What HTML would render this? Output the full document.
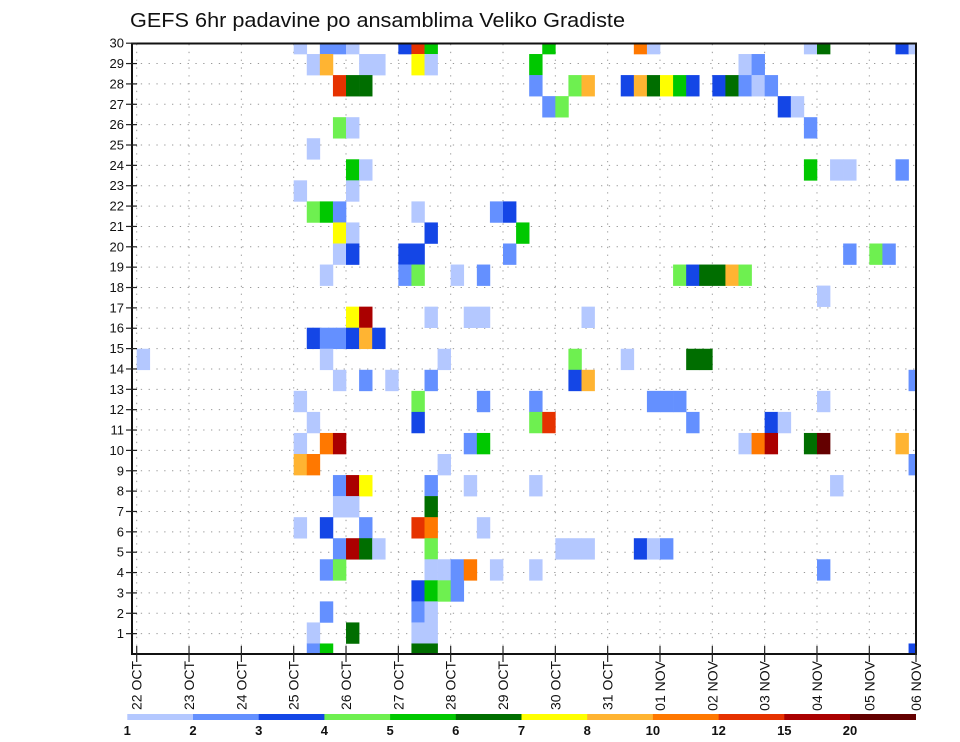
<!DOCTYPE html>
<html><head><meta charset="utf-8"><style>
html,body{margin:0;padding:0;background:#fff;}
svg{display:block;font-family:"Liberation Sans",sans-serif;}
</style></head><body>
<svg id="chart" width="960" height="742" viewBox="0 0 960 742" xmlns="http://www.w3.org/2000/svg">
<defs><clipPath id="plotclip"><rect x="132" y="43.5" width="784" height="610.5"/></clipPath></defs>
<text x="130" y="27" font-size="20" textLength="495" lengthAdjust="spacingAndGlyphs" fill="#111">GEFS 6hr padavine po ansamblima Veliko Gradiste</text>
<g id="grid"></g>
<g id="cells" clip-path="url(#plotclip)"></g>
<rect x="132" y="43.5" width="784" height="610.5" fill="none" stroke="#111" stroke-width="2"/>
<g id="axes"></g>
<g id="colorbar"></g>
</svg>
<script>
// ---- data ----
const dayLabels = ["22 OCT","23 OCT","24 OCT","25 OCT","26 OCT","27 OCT","28 OCT","29 OCT","30 OCT","31 OCT","01 NOV","02 NOV","03 NOV","04 NOV","05 NOV","06 NOV"];
const memberLabels = [1,2,3,4,5,6,7,8,9,10,11,12,13,14,15,16,17,18,19,20,21,22,23,24,25,26,27,28,29,30];
const levels = [1,2,3,4,5,6,7,8,10,12,15,20];
const levelColors = ["#b4c8ff","#6490ff","#1446e6","#6ef050","#00c800","#006e00","#ffff00","#ffb432","#ff7800","#e63200","#aa0000","#640000"];
// cells: time step (6h from 22 OCT 00Z), member row, precipitation value (mm)
const cellStep = [12,14,15,16,20,21,22,31,38,39,51,52,58,59,
 13,14,17,18,21,22,30,46,47,
 15,16,17,30,33,34,37,38,39,40,41,42,44,45,46,47,48,
 31,32,49,50, 15,16,51, 13, 16,17,51,53,54,58, 12,16,
 13,14,15,21,27,28, 15,16,22,29, 15,16,20,21,28,54,56,57,
 14,20,21,24,26,41,42,43,44,45,46, 52, 16,17,22,25,26,34,
 13,14,15,16,17,18, 0,14,23,33,37,42,43, 15,17,19,22,33,34,59,
 12,21,26,30,39,40,41,52, 13,21,30,31,42,48,49,
 12,14,15,25,26,46,47,48,51,52,58, 12,13,23,59,
 15,16,17,22,25,30,53, 15,16,22, 12,14,17,21,22,26,
 15,16,17,18,22,32,33,34,38,39,40, 14,15,22,23,24,25,27,30,52,
 21,22,23,24, 14,21,22, 13,16,21,22, 13,14,21,22,59];
const cellMember = [29,29,29,29,29,29,29,29,29,29,29,29,29,29,
 28,28,28,28,28,28,28,28,28,
 27,27,27,27,27,27,27,27,27,27,27,27,27,27,27,27,27,
 26,26,26,26, 25,25,25, 24, 23,23,23,23,23,23, 22,22,
 21,21,21,21,21,21, 20,20,20,20, 19,19,19,19,19,19,19,19,
 18,18,18,18,18,18,18,18,18,18,18, 17, 16,16,16,16,16,16,
 15,15,15,15,15,15, 14,14,14,14,14,14,14, 13,13,13,13,13,13,13,
 12,12,12,12,12,12,12,12, 11,11,11,11,11,11,11,
 10,10,10,10,10,10,10,10,10,10,10, 9,9,9,9,
 8,8,8,8,8,8,8, 7,7,7, 6,6,6,6,6,6,
 5,5,5,5,5,5,5,5,5,5,5, 4,4,4,4,4,4,4,4,4,
 3,3,3,3, 2,2,2, 1,1,1,1, 0,0,0,0,0];
const cellValue = [1,2,2,1,3,12,5,5,10,1,1,6,3,1,
 1,8,1,1,7,1,5,1,2,
 12,6,6,2,4,8,3,8,6,7,5,3,3,6,2,1,2,
 2,4,3,1, 4,1,2, 1, 5,1,5,1,1,2, 1,1,
 4,5,2,1,2,3, 7,1,3,5, 1,3,3,3,2,2,4,2,
 1,2,4,1,2,4,3,6,6,8,4, 1, 7,15,1,1,1,1,
 3,2,2,3,8,3, 1,1,1,4,1,6,6, 1,2,1,2,3,8,2,
 1,4,2,2,2,2,2,1, 1,3,4,12,2,3,1,
 1,10,15,2,5,1,10,15,6,20,8, 8,10,1,2,
 2,15,7,2,1,1,1, 1,1,6, 1,3,2,12,10,1,
 2,15,6,1,4,1,1,1,3,1,2, 2,4,1,1,2,10,1,1,2,
 3,5,4,2, 2,2,1, 1,6,1,1, 2,5,6,6,3];

// ---- scales ----
const NS = "http://www.w3.org/2000/svg";
const X0 = 136.7, DAYW = 52.33, STEPW = DAYW/4;
const Y0 = 654, LABH = 20.36;           // axis label spacing
const CELLH = 610.5/29;                 // cell row pitch
const xDay = d => X0 + d*DAYW;
const xStep = s => X0 + s*STEPW;
const yLabel = k => Y0 - k*LABH;
const yCell = j => Y0 - j*CELLH;
function colorFor(v){let i=0;for(let k=0;k<levels.length;k++){if(v>=levels[k])i=k;}return levelColors[i];}
function mk(tag, attrs, parent){const e=document.createElementNS(NS,tag);for(const k in attrs)e.setAttribute(k,attrs[k]);parent.appendChild(e);return e;}

const grid=document.getElementById('grid'), cells=document.getElementById('cells'), axes=document.getElementById('axes'), cb=document.getElementById('colorbar');

// gridlines
dayLabels.forEach((lab,d)=>{
  const x=xDay(d); if(x>915) return;
  const l=mk('line',{x1:x,x2:x,y1:44,y2:654,stroke:'#999','stroke-width':1,'stroke-dasharray':'1.3 6.5'},grid);
  
  
});
memberLabels.forEach(k=>{
  if(k>=30) return;
  const y=yLabel(k);
  const l=mk('line',{x1:133,x2:915,y1:y,y2:y,stroke:'#999','stroke-width':1,'stroke-dasharray':'1.3 6.5'},grid);
  
  
});

// cells
for(let i=0;i<cellStep.length;i++){
  const x=xStep(cellStep[i]), y=yCell(cellMember[i])-CELLH/2;
  const r=mk('rect',{x:x,y:y,width:STEPW+0.3,height:CELLH+0.3,fill:colorFor(cellValue[i])},cells);
  
  
}

// y axis
memberLabels.forEach(k=>{
  const y=yLabel(k);
  const t=mk('line',{x1:126,x2:137,y1:y,y2:y,stroke:'#222','stroke-width':1.2},axes);
  
  
  const tx=mk('text',{x:124,y:y+4.5,'font-size':13,'text-anchor':'end',fill:'#111'},axes);
  tx.textContent=String(k);
  
  
});
// x axis
dayLabels.forEach((lab,d)=>{
  const x=Math.min(xDay(d),916);
  const t=mk('line',{x1:x,x2:x,y1:646,y2:662,stroke:'#222','stroke-width':1.2},axes);
  
  
  const tx=mk('text',{x:0,y:0,'font-size':14,'text-anchor':'end',fill:'#111',transform:`translate(${x+5},661) rotate(-90)`},axes);
  tx.textContent=lab;
  
  
});

// colorbar
const CBX=127.3, CBW=65.7;
levelColors.forEach((c,i)=>{
  const r=mk('rect',{x:CBX+i*CBW,y:714,width:CBW+0.3,height:6,fill:c},cb);
  
  
  const t=mk('text',{x:CBX+i*CBW,y:735,'font-size':13,'font-weight':'bold','text-anchor':'middle',fill:'#111'},cb);
  t.textContent=String(levels[i]);
  
  
});
</script>
</body></html>
